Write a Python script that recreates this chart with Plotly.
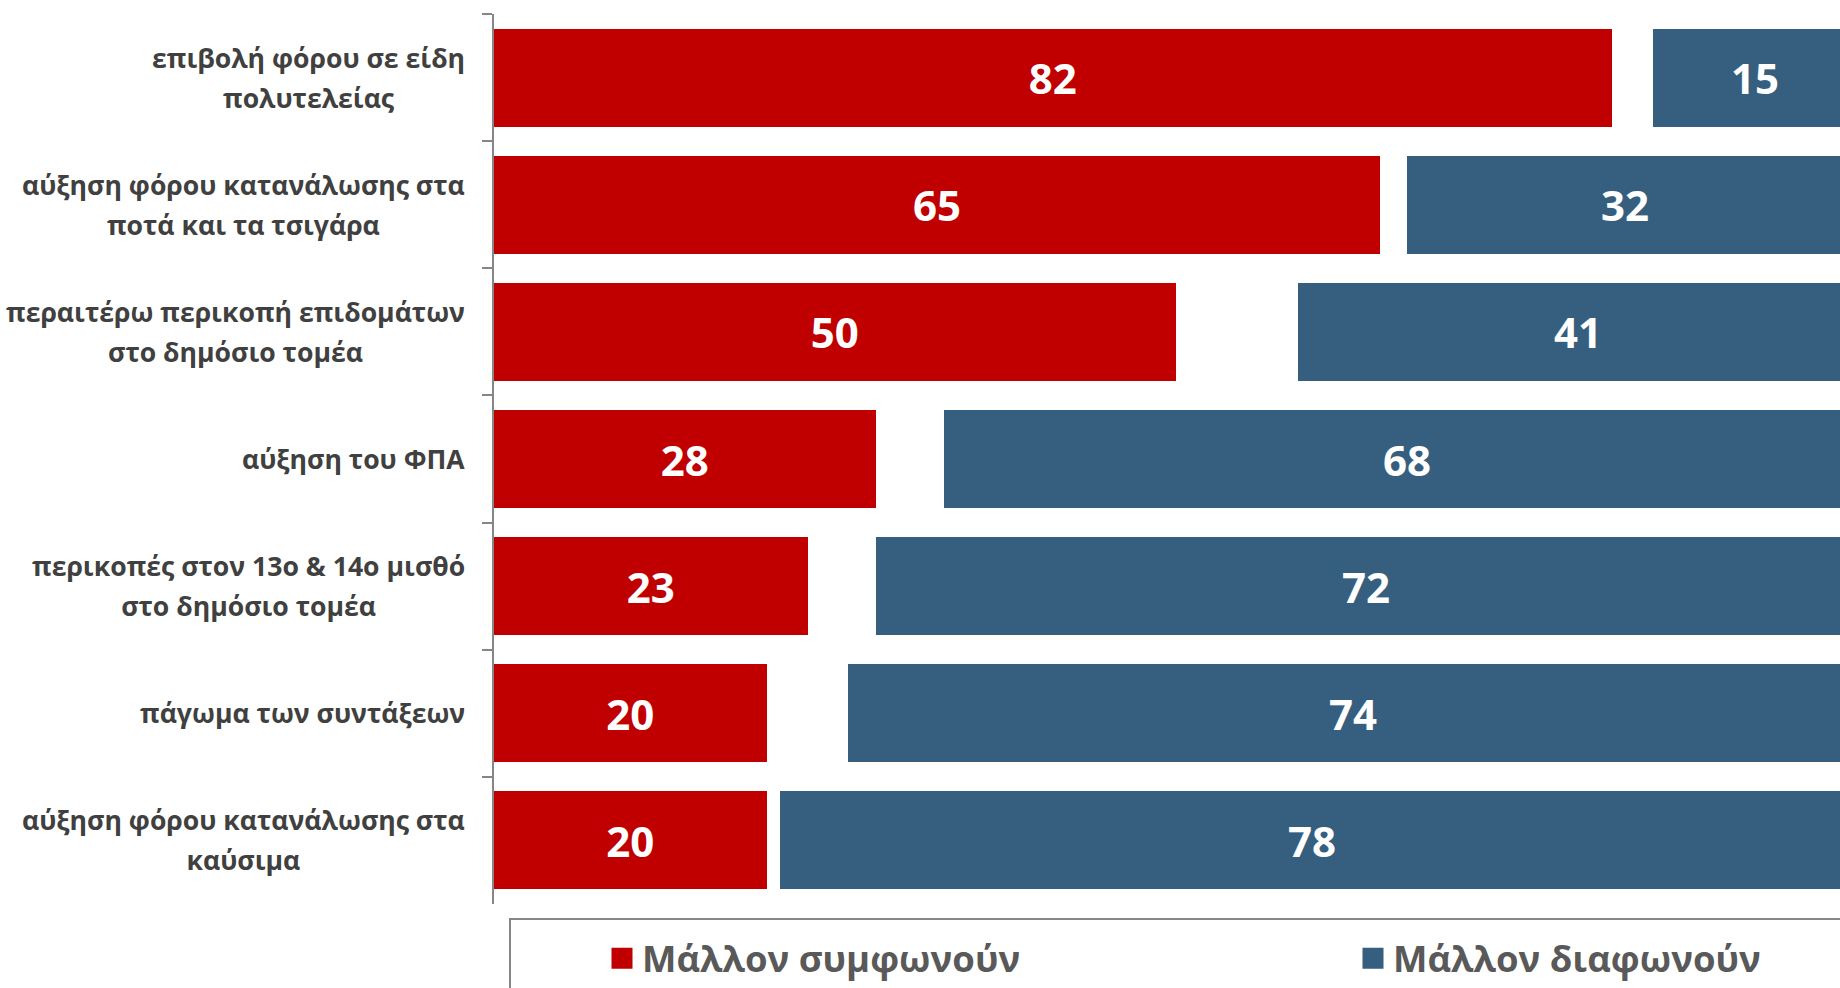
import plotly.graph_objects as go

categories = [
    "επιβολή φόρου σε είδη<br>πολυτελείας",
    "αύξηση φόρου κατανάλωσης στα<br>ποτά και τα τσιγάρα",
    "περαιτέρω περικοπή επιδομάτων<br>στο δημόσιο τομέα",
    "αύξηση του ΦΠΑ",
    "περικοπές στον 13ο & 14ο μισθό<br>στο δημόσιο τομέα",
    "πάγωμα των συντάξεων",
    "αύξηση φόρου κατανάλωσης στα<br>καύσιμα",
]
agree = [82, 65, 50, 28, 23, 20, 20]
unknown = [3, 2, 9, 5, 5, 6, 1]
disagree = [15, 32, 41, 68, 72, 74, 78]

series_names = ["Μάλλον συμφωνούν", "Μάλλον διαφωνούν"]

RED = "#C00000"
BLUE = "#365F7F"
FONT = "Open Sans"

W, H = 1840, 988
ML, MR, MT, MB = 494, 0, 14, 84

fig = go.Figure()
fig.add_trace(go.Bar(
    y=categories, x=agree, orientation="h", name=series_names[0],
    marker=dict(color=RED, line=dict(width=0)),
    text=agree, textposition="inside", insidetextanchor="middle",
    textfont=dict(family=FONT, size=42, color="white", weight="bold"),
    cliponaxis=False, hoverinfo="skip", showlegend=False,
))
fig.add_trace(go.Bar(
    y=categories, x=unknown, orientation="h", name="",
    marker=dict(color="rgba(0,0,0,0)", line=dict(width=0)),
    showlegend=False, hoverinfo="skip",
))
fig.add_trace(go.Bar(
    y=categories, x=disagree, orientation="h", name=series_names[1],
    marker=dict(color=BLUE, line=dict(width=0)),
    hoverinfo="skip", showlegend=False,
))

# value labels of the right-hand series, centred on each (partly clipped) bar
for c, a, u, d in zip(categories, agree, unknown, disagree):
    fig.add_annotation(
        x=a + u + d / 2, xref="x", y=c, yref="y",
        text=str(d), showarrow=False, xanchor="center", yanchor="middle",
        font=dict(family=FONT, size=42, color="white", weight="bold"),
    )

# legend entries
fig.add_trace(go.Scatter(
    x=[None], y=[None], mode="markers", name=series_names[0],
    marker=dict(symbol="square", size=16, color=RED, line=dict(color=RED, width=7)),
    legend="legend", hoverinfo="skip",
))
fig.add_trace(go.Scatter(
    x=[None], y=[None], mode="markers", name=series_names[1],
    marker=dict(symbol="square", size=16, color=BLUE, line=dict(color=BLUE, width=7)),
    legend="legend2", hoverinfo="skip",
))

# category labels as centred multi-line text blocks
for c in categories:
    fig.add_annotation(
        x=0, xref="paper", y=c, yref="y", xanchor="right", xshift=-27,
        text=f"<span style='font-size:26.6px'>{c}</span>", showarrow=False, align="center",
        font=dict(family=FONT, size=31, color="#404040", weight="bold"),
    )

pw = W - ML - MR
ph = H - MT - MB
# legend frame
fig.add_shape(
    type="rect", xref="paper", yref="paper",
    x0=(510 - ML) / pw, x1=(1900 - ML) / pw,
    y0=(H - MB - 1050) / ph, y1=(H - MB - 919) / ph,
    line=dict(color="#868686", width=2), fillcolor="rgba(0,0,0,0)", layer="below",
)

leg_common = dict(
    orientation="h", xref="container", yref="container",
    xanchor="left", yanchor="top", y=1 - 928 / H,
    font=dict(family=FONT, size=36.5, color="#595959", weight="bold"),
    bgcolor="rgba(0,0,0,0)", borderwidth=0,
)

fig.update_layout(
    width=W, height=H,
    margin=dict(l=ML, r=MR, t=MT, b=MB, pad=0, autoexpand=False),
    barmode="stack", bargap=0.23,
    plot_bgcolor="white", paper_bgcolor="white",
    showlegend=True,
    legend=dict(x=602 / W, **leg_common),
    legend2=dict(x=1353 / W, **leg_common),
    xaxis=dict(visible=False, range=[0, 98.75], fixedrange=True),
    yaxis=dict(
        type="category", autorange="reversed",
        showticklabels=False, showgrid=False, zeroline=False,
        showline=True, linecolor="#868686", linewidth=2,
        ticks="outside", tickson="boundaries", ticklen=10,
        tickcolor="#868686", tickwidth=2, fixedrange=True,
    ),
)

fig.write_html(
    "out.html",
    config={"displayModeBar": False},
    post_script="document.body.style.margin='0px';document.body.style.overflow='hidden';",
)
